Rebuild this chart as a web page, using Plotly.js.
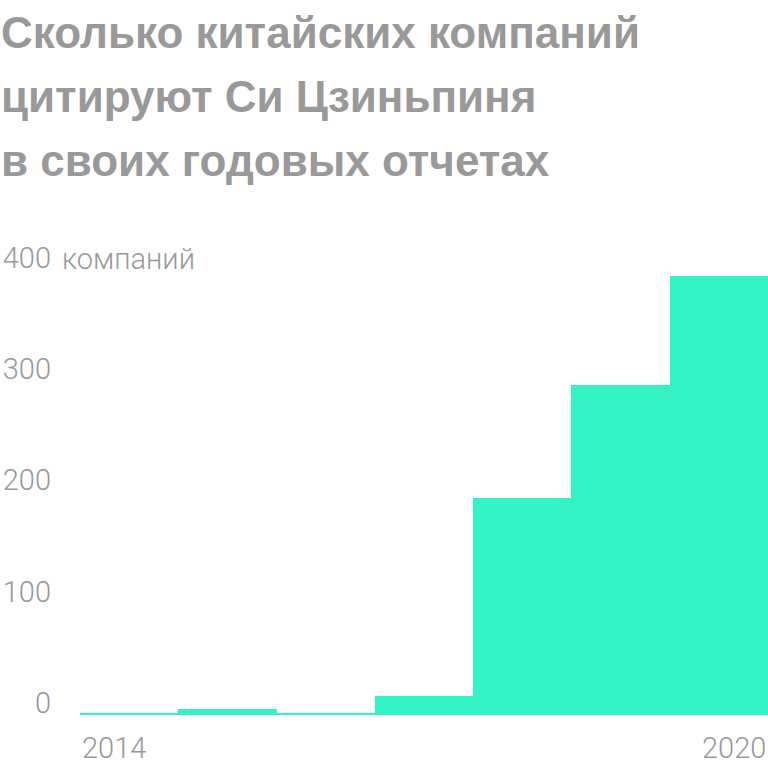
<!DOCTYPE html>
<html>
<head>
<meta charset="utf-8">
<script src="https://cdn.plot.ly/plotly-3.0.1.min.js"></script>
<style>
  html, body { margin: 0; padding: 0; background: #fff; }
  #chart { width: 768px; height: 768px; }
</style>
</head>
<body>
<div id="chart"></div>
<script>
// companies quoting Xi Jinping in annual reports, by year
var years = [2014, 2015, 2016, 2017, 2018, 2019, 2020];
var companies = [2, 5, 2, 17, 195, 297, 395];

var yTicks = [0, 100, 200, 300, 400];
var titleLines = [
  'Сколько китайских компаний',
  'цитируют Си Цзиньпиня',
  'в своих годовых отчетах'
];
var unitLabel = 'компаний';

var grey = '#999999';
var labelFont = 'Roboto, Arial, sans-serif';

var trace = {
  type: 'bar',
  x: years,
  y: companies,
  width: 1,
  marker: { color: '#33f3c5', line: { width: 0 } },
  hoverinfo: 'none'
};

// title lines as separate annotations (plotly line spacing is too tight)
var annotations = titleLines.map(function (t, i) {
  return {
    text: t,
    xref: 'paper', yref: 'paper',
    x: -81 / 688, xanchor: 'left',
    y: (715 - (32 + i * 64)) / 445, yanchor: 'middle',
    showarrow: false,
    font: { family: '"Liberation Sans", Arial, sans-serif', size: 44, weight: 700, color: grey }
  };
});

// unit after the top tick
annotations.push({
  text: unitLabel,
  xref: 'paper', yref: 'y',
  x: -20 / 688, xanchor: 'left',
  y: 400, yanchor: 'bottom', yshift: -8,
  showarrow: false,
  font: { family: labelFont, size: 29, weight: 300, color: grey }
});

// first and last year under the bar edges
annotations.push({
  text: String(years[0]),
  xref: 'x', yref: 'paper',
  x: years[0] - 0.5, xanchor: 'left',
  y: 0, yanchor: 'middle', yshift: -33,
  showarrow: false,
  font: { family: labelFont, size: 29, weight: 300, color: grey }
});
annotations.push({
  text: String(years[years.length - 1]),
  xref: 'x', yref: 'paper',
  x: years[years.length - 1] + 0.5, xanchor: 'right',
  y: 0, yanchor: 'middle', yshift: -33,
  showarrow: false,
  font: { family: labelFont, size: 29, weight: 300, color: grey }
});

var layout = {
  width: 768,
  height: 768,
  margin: { l: 80, r: 0, t: 270, b: 53 },
  paper_bgcolor: '#ffffff',
  plot_bgcolor: '#ffffff',
  showlegend: false,
  bargap: 0,
  xaxis: {
    range: [years[0] - 0.5, years[years.length - 1] + 0.5],
    showgrid: false,
    zeroline: false,
    showline: false,
    showticklabels: false,
    ticks: '',
    fixedrange: true
  },
  yaxis: {
    range: [0, 400],
    tickvals: yTicks,
    ticktext: yTicks.map(String),
    showgrid: false,
    zeroline: false,
    showline: false,
    ticks: '',
    ticklabelposition: 'outside top',
    ticklabelstandoff: 28,
    ticklabelshift: 8,
    tickfont: { family: labelFont, size: 29, weight: 300, color: grey },
    fixedrange: true
  },
  annotations: annotations
};

Plotly.newPlot('chart', [trace], layout, { displayModeBar: false, staticPlot: true });
</script>
</body>
</html>
